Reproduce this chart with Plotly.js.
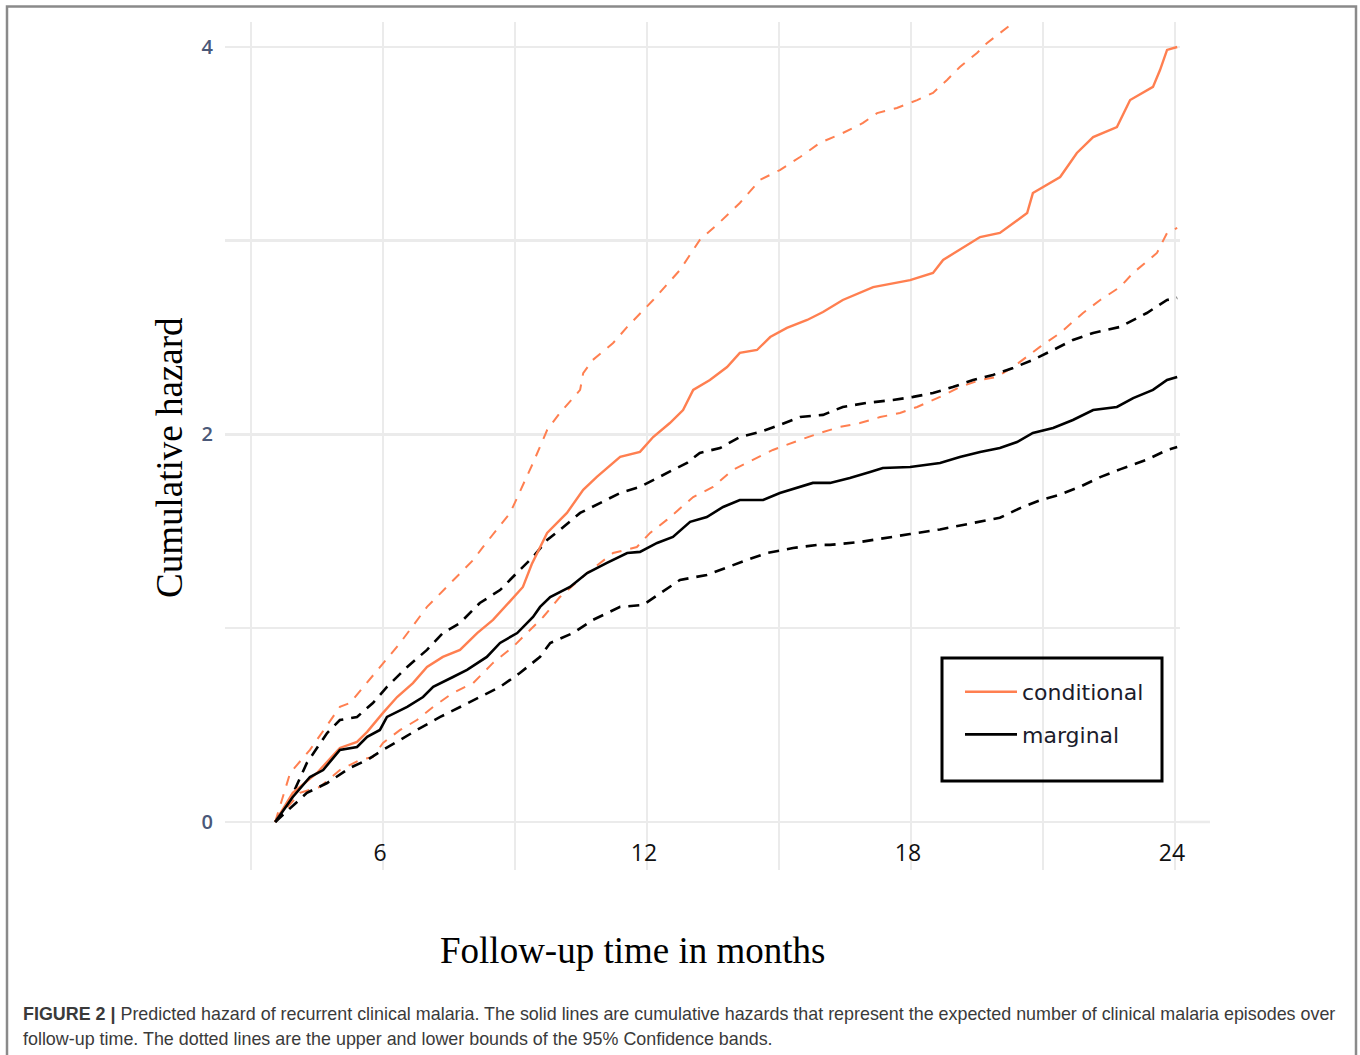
<!DOCTYPE html>
<html>
<head>
<meta charset="utf-8">
<script src="https://cdn.plot.ly/plotly-3.0.1.min.js"></script>
<style>
  html, body { margin: 0; padding: 0; background: #ffffff; }
  #chart { width: 1360px; height: 1055px; }
</style>
</head>
<body>
<div id="chart"></div>
<script>
// ---- Data (months of follow-up, cumulative hazard) ----
const condMonths = [3.55, 3.95, 4.50, 5.02, 5.41, 5.64, 6.00, 6.32, 6.68, 7.00, 7.36, 7.75, 8.14, 8.50, 8.89, 9.18, 9.38, 9.73, 10.18, 10.55, 10.86, 11.39, 11.84, 12.14, 12.52, 12.82, 13.05, 13.43, 13.82, 14.11, 14.50, 14.80, 15.18, 15.64, 16.00, 16.45, 17.14, 17.98, 18.50, 18.73, 19.57, 20.02, 20.64, 20.77, 21.39, 21.77, 22.14, 22.68, 22.98, 23.50, 23.66, 23.82, 24.05];
const condHazard = [0.00, 0.150, 0.253, 0.382, 0.413, 0.465, 0.563, 0.645, 0.717, 0.800, 0.852, 0.888, 0.975, 1.043, 1.14, 1.213, 1.33, 1.492, 1.595, 1.714, 1.781, 1.884, 1.910, 1.987, 2.059, 2.126, 2.230, 2.281, 2.348, 2.421, 2.436, 2.503, 2.550, 2.591, 2.632, 2.694, 2.761, 2.797, 2.834, 2.901, 3.019, 3.040, 3.143, 3.246, 3.329, 3.453, 3.535, 3.587, 3.726, 3.794, 3.881, 3.985, 4.000];

const condUpperMonths = [3.55, 3.89, 4.34, 5.02, 5.25, 5.93, 6.39, 7.00, 7.59, 8.05, 8.27, 8.89, 9.41, 9.73, 10.02, 10.48, 10.55, 10.77, 11.23, 11.55, 12.14, 12.75, 13.20, 13.66, 14.11, 14.57, 15.02, 15.48, 15.93, 16.45, 16.91, 17.23, 17.68, 18.14, 18.50, 18.82, 19.11, 19.50, 19.73, 20.02, 20.32, 20.59, 21.00];
const condUpper = [0.00, 0.253, 0.372, 0.594, 0.614, 0.800, 0.924, 1.110, 1.249, 1.352, 1.419, 1.595, 1.853, 2.023, 2.111, 2.230, 2.317, 2.385, 2.472, 2.555, 2.694, 2.849, 3.004, 3.097, 3.195, 3.314, 3.365, 3.432, 3.505, 3.556, 3.608, 3.659, 3.685, 3.726, 3.763, 3.830, 3.897, 3.969, 4.021, 4.072, 4.124, 4.181, 4.25];

const condLowerMonths = [3.55, 4.11, 4.57, 5.02, 5.48, 5.77, 6.00, 6.39, 6.77, 7.14, 7.59, 8.05, 8.50, 8.95, 9.41, 9.64, 10.02, 10.64, 11.23, 11.77, 12.07, 12.45, 13.05, 13.50, 13.95, 14.41, 14.86, 15.48, 15.93, 16.39, 16.84, 17.30, 17.75, 18.14, 18.66, 19.11, 19.57, 19.95, 20.32, 20.93, 21.39, 21.91, 22.30, 22.75, 23.05, 23.59, 23.82, 24.05];
const condLower = [0.00, 0.150, 0.181, 0.268, 0.320, 0.335, 0.408, 0.475, 0.526, 0.594, 0.666, 0.717, 0.821, 0.903, 1.006, 1.058, 1.161, 1.285, 1.388, 1.419, 1.492, 1.559, 1.677, 1.729, 1.817, 1.868, 1.920, 1.972, 2.008, 2.039, 2.059, 2.090, 2.111, 2.142, 2.194, 2.245, 2.281, 2.297, 2.348, 2.452, 2.524, 2.627, 2.694, 2.761, 2.834, 2.937, 3.040, 3.066];

const margMonths = [3.55, 3.95, 4.34, 4.64, 5.02, 5.41, 5.64, 5.93, 6.09, 6.55, 6.91, 7.14, 7.59, 7.91, 8.36, 8.66, 9.05, 9.41, 9.57, 9.80, 10.25, 10.64, 11.09, 11.55, 11.84, 12.23, 12.59, 12.98, 13.36, 13.73, 14.11, 14.64, 15.02, 15.48, 15.77, 16.16, 16.61, 17.07, 17.36, 17.98, 18.66, 19.11, 19.57, 20.02, 20.41, 20.77, 21.23, 21.68, 22.14, 22.68, 23.05, 23.50, 23.82, 24.05];
const margHazard = [0.00, 0.129, 0.232, 0.268, 0.372, 0.387, 0.439, 0.475, 0.542, 0.594, 0.645, 0.697, 0.748, 0.785, 0.852, 0.924, 0.975, 1.058, 1.110, 1.161, 1.213, 1.285, 1.337, 1.388, 1.394, 1.440, 1.471, 1.549, 1.574, 1.626, 1.662, 1.662, 1.698, 1.729, 1.750, 1.750, 1.775, 1.806, 1.827, 1.832, 1.853, 1.884, 1.910, 1.930, 1.961, 2.008, 2.034, 2.075, 2.126, 2.142, 2.188, 2.230, 2.281, 2.297];

const margUpperMonths = [3.55, 3.89, 4.27, 4.73, 5.02, 5.41, 5.77, 6.09, 6.55, 7.00, 7.36, 7.75, 8.20, 8.66, 9.11, 9.41, 9.73, 10.02, 10.48, 10.93, 11.39, 11.84, 12.14, 12.59, 12.91, 13.20, 13.66, 14.11, 14.57, 15.02, 15.48, 16.00, 16.45, 17.00, 17.59, 18.05, 18.50, 18.95, 19.41, 19.86, 20.32, 20.77, 21.23, 21.68, 22.14, 22.75, 23.36, 23.82, 24.05];
const margUpper = [0.00, 0.114, 0.305, 0.459, 0.526, 0.542, 0.614, 0.697, 0.800, 0.888, 0.975, 1.027, 1.130, 1.197, 1.301, 1.368, 1.455, 1.507, 1.595, 1.646, 1.698, 1.729, 1.765, 1.817, 1.853, 1.905, 1.930, 1.987, 2.013, 2.049, 2.090, 2.101, 2.142, 2.163, 2.178, 2.194, 2.214, 2.245, 2.281, 2.307, 2.343, 2.385, 2.436, 2.488, 2.524, 2.555, 2.627, 2.694, 2.705];

const margLowerMonths = [3.55, 4.27, 4.73, 5.25, 5.64, 6.00, 6.39, 6.77, 7.30, 7.75, 8.20, 8.66, 9.11, 9.57, 9.80, 10.32, 10.77, 11.39, 11.91, 12.30, 12.75, 13.36, 13.82, 14.27, 14.73, 15.32, 15.86, 16.16, 16.84, 17.30, 17.98, 18.66, 19.34, 20.02, 20.48, 20.93, 21.39, 21.84, 22.30, 22.75, 23.36, 23.82, 24.05];
const margLower = [0.00, 0.150, 0.201, 0.279, 0.320, 0.372, 0.423, 0.475, 0.542, 0.594, 0.645, 0.697, 0.769, 0.852, 0.924, 0.975, 1.043, 1.110, 1.120, 1.182, 1.249, 1.275, 1.316, 1.352, 1.388, 1.414, 1.430, 1.430, 1.445, 1.460, 1.486, 1.51, 1.54, 1.57, 1.62, 1.66, 1.69, 1.73, 1.78, 1.82, 1.87, 1.92, 1.935];

const xTickVals = [3, 6, 9, 12, 15, 18, 21, 24];
const xTickText = ["", "6", "", "12", "", "18", "", "24"];
const yTickVals = [0, 1, 2, 3, 4];
const yTickText = ["0", "", "2", "", "4"];

const seriesNames = ["conditional", "marginal"];
const xTitle = "Follow-up time in months";
const yTitle = "Cumulative hazard";
const captionBold = "FIGURE 2 |";
const captionLine1 = " Predicted hazard of recurrent clinical malaria. The solid lines are cumulative hazards that represent the expected number of clinical malaria episodes over";
const captionLine2 = "follow-up time. The dotted lines are the upper and lower bounds of the 95% Confidence bands.";

// ---- Styles ----
const ORANGE = "#ff7f50";
const BLACK = "#000000";

const traces = [
  { x: condUpperMonths, y: condUpper, mode: "lines", line: { color: ORANGE, width: 2, dash: "10px,9px" }, showlegend: false, hoverinfo: "skip" },
  { x: condLowerMonths, y: condLower, mode: "lines", line: { color: ORANGE, width: 2, dash: "10px,9px" }, showlegend: false, hoverinfo: "skip" },
  { x: margUpperMonths, y: margUpper, mode: "lines", line: { color: BLACK, width: 2.6, dash: "11px,8px" }, showlegend: false, hoverinfo: "skip" },
  { x: margLowerMonths, y: margLower, mode: "lines", line: { color: BLACK, width: 2.6, dash: "11px,8px" }, showlegend: false, hoverinfo: "skip" },
  { x: condMonths, y: condHazard, name: seriesNames[0], legendgroup: "a", mode: "lines", line: { color: ORANGE, width: 2.4 } },
  { x: margMonths, y: margHazard, name: seriesNames[1], legendgroup: "b", mode: "lines", line: { color: BLACK, width: 2.6 } }
];

// plot area in pixels: x 225..1180, y 22..870
const L = 225, R = 1180, T = 22, B = 870;
const px = v => (v - L) / (R - L);
const py = v => (B - v) / (B - T);

const layout = {
  width: 1360, height: 1055, autosize: false,
  margin: { l: L, r: 1360 - R, t: T, b: 1055 - B, pad: 0 },
  paper_bgcolor: "#ffffff", plot_bgcolor: "#ffffff",
  showlegend: true,
  legend: {
    x: px(960), y: py(671), xanchor: "left", yanchor: "top",
    bgcolor: "rgba(0,0,0,0)", borderwidth: 0,
    font: { family: "DejaVu Sans", size: 22, color: "#1c1c2c" },
    itemwidth: 52, tracegroupgap: 11, traceorder: "grouped"
  },
  xaxis: {
    range: [2.409, 24.114], tickvals: xTickVals, ticktext: xTickText,
    showgrid: true, gridcolor: "#ebebeb", gridwidth: 2.5,
    zeroline: false, showline: false, ticks: "",
    ticklabelposition: "inside", ticklabeloverflow: "allow", ticklabelstandoff: 1, ticklabelshift: -3,
    tickfont: { family: "Open Sans", size: 23, color: "#111111" },
    fixedrange: true
  },
  yaxis: {
    range: [-0.248, 4.129], tickvals: yTickVals, ticktext: yTickText,
    showgrid: true, gridcolor: "#ebebeb", gridwidth: 2.5,
    zeroline: false, showline: false, ticks: "", ticklabelstandoff: 11,
    tickfont: { family: "Open Sans", size: 20, color: "#4a5878", weight: 600 },
    fixedrange: true
  },
  shapes: [
    { type: "line", xref: "paper", yref: "y", x0: px(1180), x1: px(1210), y0: 0, y1: 0,
      line: { color: "#ebebeb", width: 2.5 }, layer: "below" },
    { type: "rect", xref: "paper", yref: "paper", x0: px(7), x1: px(1356), y0: py(1070), y1: py(6.5),
      line: { color: "#8a8a8a", width: 2.5 }, fillcolor: "rgba(0,0,0,0)", layer: "above" },
    { type: "rect", xref: "paper", yref: "paper", x0: px(942), x1: px(1162), y0: py(781), y1: py(658),
      line: { color: "#000000", width: 3 }, fillcolor: "rgba(0,0,0,0)", layer: "above" }
  ],
  annotations: [
    { xref: "paper", yref: "paper", x: px(632), y: py(950), text: xTitle, showarrow: false,
      xanchor: "center", yanchor: "middle", font: { family: "Liberation Serif", size: 37, color: "#000000" } },
    { xref: "paper", yref: "paper", x: px(170), y: py(458), text: yTitle, showarrow: false, textangle: -90,
      xanchor: "center", yanchor: "middle", font: { family: "Liberation Serif", size: 37, color: "#000000" } },
    { xref: "paper", yref: "paper", x: px(21), y: py(1014), text: "<b>" + captionBold + "</b>" + captionLine1, showarrow: false,
      xanchor: "left", yanchor: "middle", align: "left", font: { family: "Liberation Sans", size: 17.9, color: "#3a3a3a" } },
    { xref: "paper", yref: "paper", x: px(21), y: py(1039), text: captionLine2, showarrow: false,
      xanchor: "left", yanchor: "middle", align: "left", font: { family: "Liberation Sans", size: 17.9, color: "#3a3a3a" } }
  ]
};

Plotly.newPlot("chart", traces, layout, { staticPlot: true, displayModeBar: false });
</script>
</body>
</html>
